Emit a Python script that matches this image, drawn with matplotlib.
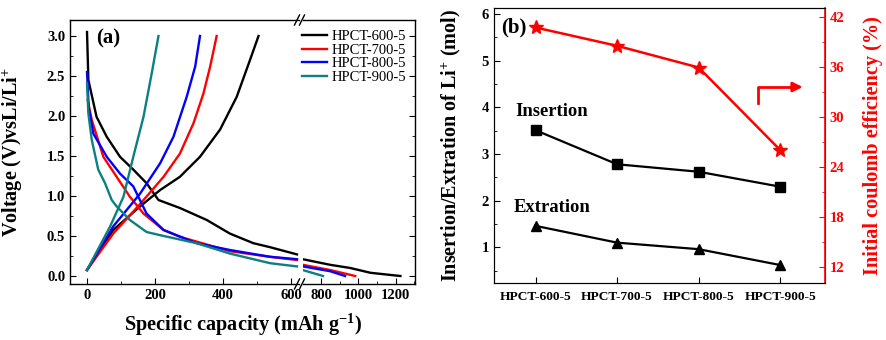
import numpy as np
import matplotlib
matplotlib.use("Agg")
import matplotlib.pyplot as plt
from matplotlib.ticker import MultipleLocator
from matplotlib.lines import Line2D

plt.rcParams["font.family"] = ["Liberation Serif", "DejaVu Serif"]
plt.rcParams["font.weight"] = "bold"
plt.rcParams["mathtext.default"] = "regular"

# ---- panel (a): charge / discharge curves ----
samples = ["HPCT-600-5", "HPCT-700-5", "HPCT-800-5", "HPCT-900-5"]
colors = ["#000000", "#ff0000", "#0000ff", "#0a8080"]

dis_x = [
    [0, 4, 28, 58, 97, 136, 175, 210, 273, 352, 420, 489, 538, 617, 703, 849, 957, 1065, 1225],
    [2, 14, 48, 87, 126, 166, 225, 273, 420, 538, 617, 703, 849, 983],
    [0, 5, 18.6, 58, 97, 136, 175, 225, 322, 420, 538, 617, 703, 849, 929],
    [0, 4, 14, 33, 53, 72.6, 87, 126, 175, 215, 322, 420, 538, 617, 709, 811],
]
dis_y = [
    [3.05, 2.45, 1.99, 1.74, 1.49, 1.33, 1.16, 0.95, 0.85, 0.70, 0.53, 0.41, 0.36, 0.27, 0.21, 0.14, 0.10, 0.04, 0.0],
    [2.2, 1.95, 1.49, 1.24, 0.99, 0.78, 0.575, 0.49, 0.31, 0.24, 0.20, 0.14, 0.075, 0.0],
    [2.55, 2.1, 1.78, 1.49, 1.28, 1.12, 0.78, 0.575, 0.41, 0.325, 0.24, 0.21, 0.12, 0.06, 0.0],
    [2.41, 2.03, 1.7, 1.33, 1.16, 0.95, 0.87, 0.70, 0.55, 0.51, 0.41, 0.28, 0.16, 0.12, 0.07, 0.0],
]
chg_x = [
    [0, 77, 156, 215, 273, 332, 391, 440, 479, 504],
    [0, 77, 156, 225, 273, 313, 342, 362, 381],
    [0, 77, 156, 215, 254, 293, 318, 332],
    [0, 68, 107, 136, 166, 190, 210],
]
chg_y = [
    [0.075, 0.575, 0.87, 1.075, 1.24, 1.49, 1.83, 2.24, 2.7, 3.0],
    [0.075, 0.53, 0.9, 1.24, 1.53, 1.91, 2.28, 2.62, 3.0],
    [0.075, 0.62, 1.03, 1.41, 1.74, 2.24, 2.62, 3.0],
    [0.075, 0.62, 0.99, 1.49, 1.99, 2.53, 3.0],
]

# ---- panel (b) ----
insertion = [3.51, 2.78, 2.62, 2.30]
extration = [1.46, 1.10, 0.96, 0.62]
efficiency = [40.7, 38.5, 35.9, 26.0]

W, H = 886, 340
fig = plt.figure(figsize=(W / 100, H / 100), dpi=100)


def fx(px):
    return px / W


def fy(py):
    return (H - py) / H


ax1 = fig.add_axes([fx(70), fy(284), fx(299 - 70), (284 - 20) / H])
ax2 = fig.add_axes([fx(303), fy(284), fx(415 - 303), (284 - 20) / H], sharey=ax1)

for i in range(4):
    x = np.array(dis_x[i])
    y = np.array(dis_y[i])
    left = x < 650
    ax1.plot(x[left], y[left], color=colors[i], lw=1.7, label=samples[i])
    ax2.plot(x[~left], y[~left], color=colors[i], lw=1.7)
    ax1.plot(chg_x[i], chg_y[i], color=colors[i], lw=1.7)

ax1.set_xlim(-50, 623)
ax2.set_xlim(704, 1303)
ax1.set_ylim(-0.1, 3.2)
ax1.set_xticks([0, 200, 400, 600])
ax1.xaxis.set_minor_locator(MultipleLocator(100))
ax2.set_xticks([800, 1000, 1200])
ax2.xaxis.set_minor_locator(MultipleLocator(100))
ax1.set_yticks(np.arange(0, 3.01, 0.5))
ax1.yaxis.set_minor_locator(MultipleLocator(0.25))
ax1.yaxis.set_major_formatter(plt.FormatStrFormatter("%.1f"))

ax1.spines["right"].set_visible(False)
ax2.spines["left"].set_visible(False)
ax1.tick_params(which="both", direction="in", labelsize=10.5, right=False, top=False)
ax1.tick_params(which="major", length=4)
ax1.tick_params(which="minor", length=2)
ax2.tick_params(which="both", direction="in", labelsize=10.5, left=False, labelleft=False,
                right=True, top=False)
ax2.tick_params(which="major", length=4)
ax2.tick_params(which="minor", length=2)
for ax in (ax1, ax2):
    for s in ax.spines.values():
        s.set_linewidth(1.0)
    for lab in ax.get_xticklabels() + ax.get_yticklabels():
        lab.set_fontweight("bold")

# break marks
for yy in (20, 284):
    for xx in (297, 302):
        fig.add_artist(Line2D([fx(xx - 2.5), fx(xx + 2.5)], [fy(yy + 5), fy(yy - 5)],
                              color="black", lw=1.0, transform=fig.transFigure))

ax1.set_ylabel("Voltage (V)vsLi/Li$^{+}$", fontsize=14.5, fontweight="bold")
ax1.yaxis.set_label_coords(-0.197, 0.5)
fig.text(fx(243), fy(325), "Specific capacity (mAh g$^{-1}$)", ha="center", va="center",
         fontsize=14.6, fontweight="bold")
ax1.text(0.115, 0.93, "(a)", transform=ax1.transAxes, fontsize=15, fontweight="bold",
         va="center")

handles = ax1.get_legend_handles_labels()
fig.legend(*handles, loc="upper left", bbox_to_anchor=(fx(302), fy(30)), frameon=False,
           borderpad=0, borderaxespad=0, labelspacing=0.02, handlelength=1.7,
           handletextpad=0.35, prop={"family": "Liberation Serif", "weight": "normal", "size": 10.5})

# ---- panel (b) ----
axb = fig.add_axes([fx(494), fy(283), fx(825 - 494), (283 - 8) / H])
axr = axb.twinx()
pos = np.arange(len(samples))

axb.plot(pos, insertion, color="black", lw=1.6, marker="s", ms=6.5)
axb.plot(pos, extration, color="black", lw=1.6, marker="^", ms=7.5)
axr.plot(pos, efficiency, color="#ff0000", lw=1.8, marker="*", ms=10)

axb.set_xlim(-0.51, 3.55)
axb.set_ylim(0.235, 6.13)
axr.set_ylim(10.04, 43.04)
axb.set_xticks(pos)
axb.set_xticklabels(samples, fontsize=9.6, fontweight="bold")
axb.set_yticks([1, 2, 3, 4, 5, 6])
axb.yaxis.set_minor_locator(MultipleLocator(0.5))
axr.set_yticks([12, 18, 24, 30, 36, 42])
axr.yaxis.set_minor_locator(MultipleLocator(3))

axb.tick_params(which="both", direction="in", labelsize=10.5, top=False, right=False)
axb.tick_params(axis="x", labelsize=9.6, pad=6)
axb.tick_params(which="major", length=4)
axb.tick_params(which="minor", length=2)
axr.tick_params(which="both", direction="in", labelsize=10.5, colors="#ff0000")
axr.tick_params(which="major", length=4)
axr.tick_params(which="minor", length=2)
axr.spines["right"].set_color("#ff0000")
axr.spines["right"].set_linewidth(1.2)
for lab in axb.get_yticklabels() + axr.get_yticklabels():
    lab.set_fontweight("bold")

axb.set_ylabel("Insertion/Extration of Li$^{+}$ (mol)", fontsize=14.5, fontweight="bold")
axb.yaxis.set_label_coords(-0.094, 0.5)
axr.set_ylabel("Initial coulomb efficiency (%)", fontsize=14.6, fontweight="bold", color="#ff0000")
axr.yaxis.set_label_coords(1.115, 0.5)

axb.text(0.021, 0.93, "(b)", transform=axb.transAxes, fontsize=15, fontweight="bold",
         va="center")
axb.text(0.063, 0.625, "Insertion", transform=axb.transAxes, fontsize=13.4, fontweight="bold",
         va="center")
axb.text(0.06, 0.276, "Extration", transform=axb.transAxes, fontsize=13.4, fontweight="bold",
         va="center")

# arrow pointing to the right axis
axr.plot([2.73, 2.73, 3.2], [31.6, 33.56, 33.56], color="#ff0000", lw=2)
axr.annotate("", xy=(3.31, 33.56), xytext=(3.1, 33.56),
             arrowprops=dict(arrowstyle="-|>", color="#ff0000", lw=2, mutation_scale=14))

fig.savefig("out.png", dpi=100)
